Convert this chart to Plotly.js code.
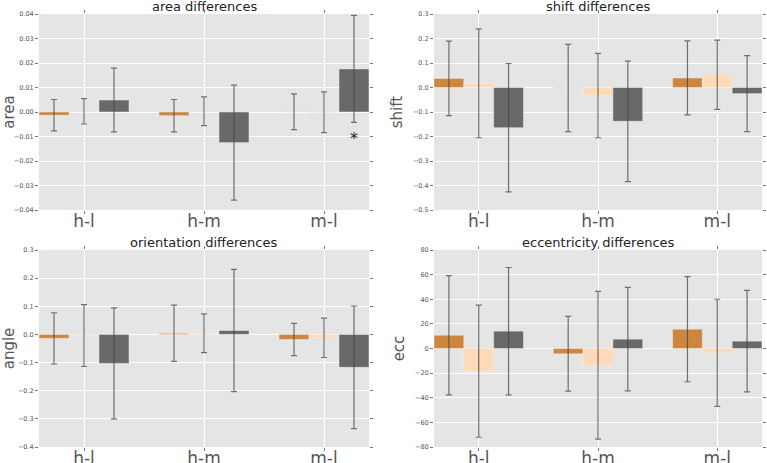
<!DOCTYPE html>
<html>
<head>
<meta charset="utf-8">
<script src="https://cdn.plot.ly/plotly-3.0.1.min.js"></script>
<style>html,body{margin:0;padding:0;background:#fff;}#chart{width:767px;height:463px;}</style>
</head>
<body>
<div id="chart"></div>
<script>
var categories = ['h-l', 'h-m', 'm-l'];
var seriesNames = ['s1', 's2', 's3'];
var colors = ['#CD853F', '#FFDAB9', '#696969'];

// area differences
var areaVals = [[-0.0013, -0.0015, 0.0001], [0.0003, 0.0003, -0.0001], [0.0049, -0.0125, 0.0176]];
var areaErr  = [[0.0064, 0.0066, 0.0073], [0.0052, 0.0059, 0.0083], [0.0130, 0.0235, 0.0218]];
// shift differences
var shiftVals = [[0.037, -0.002, 0.039], [0.017, -0.033, 0.052], [-0.164, -0.138, -0.025]];
var shiftErr  = [[0.152, 0.178, 0.151], [0.222, 0.172, 0.141], [0.262, 0.246, 0.155]];
// orientation differences
var angleVals = [[-0.014, 0.004, -0.018], [-0.004, 0.004, -0.012], [-0.103, 0.014, -0.117]];
var angleErr  = [[0.091, 0.100, 0.057], [0.110, 0.069, 0.070], [0.197, 0.217, 0.218]];
// eccentricity differences
var eccVals = [[10.8, -4.3, 15.7], [-18.4, -13.6, -3.5], [14.1, 7.6, 6.0]];
var eccErr  = [[48.4, 30.4, 42.7], [53.7, 60.0, 43.5], [51.7, 42.0, 41.2]];

var panels = [
  {title: 'area differences', ylabel: 'area', vals: areaVals, err: areaErr, range: [-0.04, 0.04], dtick: 0.01, fmt: '.2f'},
  {title: 'shift differences', ylabel: 'shift', vals: shiftVals, err: shiftErr, range: [-0.5, 0.3], dtick: 0.1, fmt: '.1f'},
  {title: 'orientation differences', ylabel: 'angle', vals: angleVals, err: angleErr, range: [-0.4, 0.3], dtick: 0.1, fmt: '.1f'},
  {title: 'eccentricity differences', ylabel: 'ecc', vals: eccVals, err: eccErr, range: [-80, 80], dtick: 20, fmt: 'd'}
];

var W = 767, H = 463;
var xdoms = [[39 / W, 369 / W], [434 / W, 762 / W]];
var ydoms = [[1 - 210 / H, 1 - 14 / H], [1 - 447 / H, 1 - 250 / H]];

var data = [];
var layout = {
  width: W, height: H,
  margin: {l: 0, r: 0, t: 0, b: 0},
  paper_bgcolor: '#ffffff',
  plot_bgcolor: '#E5E5E5',
  barmode: 'group',
  bargap: 0.25,
  bargroupgap: 0,
  showlegend: false,
  font: {family: 'DejaVu Sans, sans-serif', color: '#555555'},
  annotations: []
};

panels.forEach(function (p, i) {
  var col = i % 2, row = Math.floor(i / 2);
  var xa = 'x' + (i === 0 ? '' : (i + 1));
  var ya = 'y' + (i === 0 ? '' : (i + 1));
  var xkey = 'xaxis' + (i === 0 ? '' : (i + 1));
  var ykey = 'yaxis' + (i === 0 ? '' : (i + 1));
  for (var s = 0; s < 3; s++) {
    data.push({
      type: 'bar',
      name: seriesNames[s],
      x: categories,
      y: p.vals[s],
      xaxis: xa, yaxis: ya,
      marker: {color: colors[s], line: {color: '#EEEEEE', width: 0.5}},
      error_y: {type: 'data', array: p.err[s], visible: true, color: 'rgba(70,70,70,0.75)', thickness: 1.2, width: 3},
      hoverinfo: 'x+y'
    });
  }
  layout[xkey] = {
    domain: xdoms[col], anchor: ya,
    type: 'category',
    range: [-0.375, 2.375],
    showgrid: true, gridcolor: '#ffffff', gridwidth: 1,
    ticks: 'outside', ticklen: 3, tickcolor: '#777777', mirror: 'ticks',
    ticklabelstandoff: -7,
    tickfont: {size: 17, color: '#555555'},
    zeroline: false, showline: false,
    fixedrange: true
  };
  layout[ykey] = {
    domain: ydoms[row], anchor: xa,
    range: p.range, dtick: p.dtick, tick0: 0,
    tickformat: p.fmt,
    showgrid: true, gridcolor: '#ffffff', gridwidth: 1,
    ticks: 'outside', ticklen: 3, tickcolor: '#777777', mirror: 'ticks',
    tickfont: {size: 6.5, color: '#555555'},
    zeroline: false, showline: false,
    title: {text: p.ylabel, font: {size: 15, color: '#555555'}, standoff: 6},
    fixedrange: true
  };
  layout.annotations.push({
    text: p.title, xref: 'paper', yref: 'paper',
    x: (xdoms[col][0] + xdoms[col][1]) / 2, y: ydoms[row][1],
    xanchor: 'center', yanchor: 'bottom', yshift: -2,
    showarrow: false, font: {size: 13, color: '#222222'}
  });
});

// significance marker
layout.annotations.push({
  text: '*', xref: 'x', yref: 'y', x: 2.25, y: -0.0094,
  showarrow: false, font: {size: 16, color: '#222222'}, yshift: -3
});

Plotly.newPlot('chart', data, layout, {displayModeBar: false, staticPlot: true});
</script>
</body>
</html>
